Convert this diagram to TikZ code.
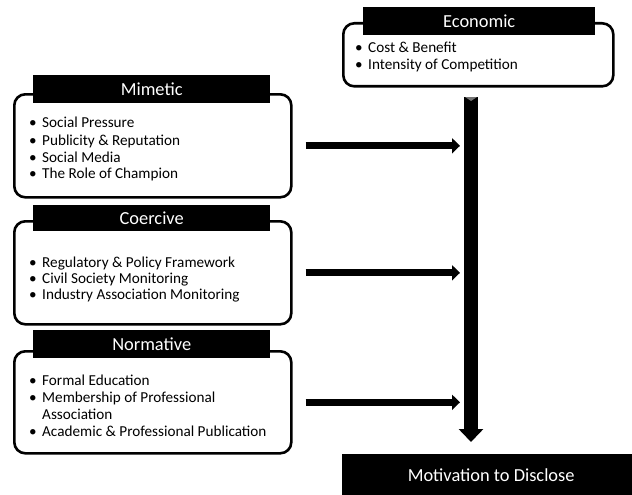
\documentclass[tikz,border=0pt]{standalone}
\usepackage{fontspec}
\setmainfont{Carlito}
\usetikzlibrary{arrows.meta}
\newcommand{\bul}{\makebox[13pt][l]{\textbullet}}
\begin{document}
\begin{tikzpicture}[x=1pt,y=-1pt,
  frame/.style={draw=black, line width=2.6pt, rounded corners=11pt, anchor=north west, inner sep=0pt},
  head/.style={fill=black, text=white, font=\fontsize{18.4}{20}\selectfont, inner sep=0pt, anchor=north west},
  item/.style={anchor=base west, inner sep=0pt, font=\fontsize{15.2}{16.7}\selectfont},
  flow/.style={line width=7pt, -{Triangle[length=8pt,width=15pt]}},
  trunk/.style={line width=14pt, -{Triangle[length=13pt,width=24pt]}}
]
\useasboundingbox (0,0) rectangle (632,495);

% Economic factors
\node[frame, minimum width=270pt, minimum height=63pt] (eco) at (342,22) {};
\node[head, minimum width=232pt, minimum height=28pt] (ecoh) at (363,7) {Economic};
\node[item] (e1) at (355,53) {\bul Cost \& Benefit};
\node[item] (e2) at (355,70) {\bul Intensity of Competition};

% Mimetic pressures
\node[frame, minimum width=277pt, minimum height=103pt] (mim) at (13,93) {};
\node[head, minimum width=237pt, minimum height=28pt] (mimh) at (33,75) {Mimetic};
\node[item] (m1) at (29,128) {\bul Social Pressure};
\node[item] (m2) at (29,145) {\bul Publicity \& Reputation};
\node[item] (m3) at (29,162) {\bul Social Media};
\node[item] (m4) at (29,178) {\bul The Role of Champion};

% Coercive pressures
\node[frame, minimum width=277pt, minimum height=103pt] (coe) at (13,220) {};
\node[head, minimum width=237pt, minimum height=26pt] (coeh) at (33,205) {Coercive};
\node[item] (c1) at (29,267) {\bul Regulatory \& Policy Framework};
\node[item] (c2) at (29,283) {\bul Civil Society Monitoring};
\node[item] (c3) at (29,299) {\bul Industry Association Monitoring};

% Normative pressures
\node[frame, minimum width=277pt, minimum height=102pt] (nor) at (13,350) {};
\node[head, minimum width=237pt, minimum height=28pt] (norh) at (33,330) {Normative};
\node[item] (n1) at (29,385) {\bul Formal Education};
\node[item] (n2) at (29,402) {\bul Membership of Professional};
\node[item] (n2b) at (42,419) {Association};
\node[item] (n3) at (29,436) {\bul Academic \& Professional Publication};

% Outcome
\node[fill=black, text=white, font=\fontsize{18.4}{20}\selectfont, inner sep=0pt,
      minimum width=290pt, minimum height=41pt, anchor=north west] (mot) at (342,454)
      {\hspace*{8pt}Motivation to Disclose};

% Main vertical arrow
\coordinate (ttop) at (471,97);
\coordinate (tend) at (471,442);
\coordinate (hit) at (460,0);
\draw[trunk] (ttop) -- (tend);
\fill[black!55] (465,97) -- (477,97) -- (471,101) -- cycle;

% Pressures feeding into the main arrow
\draw[flow] ([xshift=13pt]mim.east) -- (mim.east -| hit);
\draw[flow] ([xshift=13pt]coe.east) -- (coe.east -| hit);
\draw[flow] ([xshift=13pt]nor.east) -- (nor.east -| hit);
\end{tikzpicture}
\end{document}
